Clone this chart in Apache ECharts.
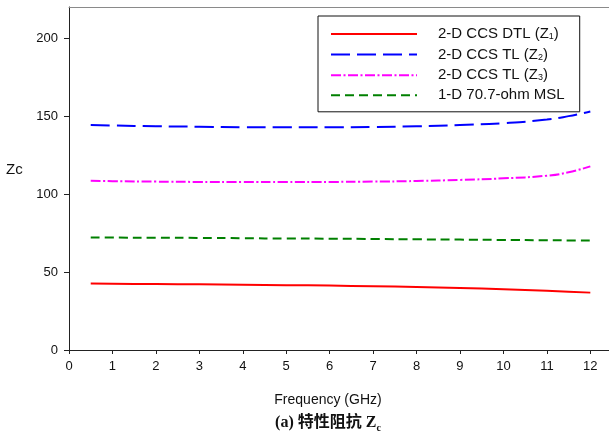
<!DOCTYPE html>
<html>
<head>
<meta charset="utf-8">
<script src="https://cdn.jsdelivr.net/npm/echarts@6/dist/echarts.min.js"></script>
<style>html,body{margin:0;padding:0;background:#fff}#c{width:609px;height:441px}</style>
</head>
<body>
<div id="c"></div>
<script>
const freq = [0.5, 1, 2, 3, 4, 5, 6, 7, 8, 9, 10, 11, 11.5, 12];
const z1DTL = [42.6, 42.5, 42.3, 42.1, 41.9, 41.6, 41.3, 40.9, 40.4, 39.8, 39.0, 38.0, 37.4, 36.8];
const z2TL = [144.3, 144.0, 143.5, 143.2, 142.9, 142.8, 142.8, 143.0, 143.5, 144.3, 145.5, 147.8, 150.0, 153.0];
const z3TL = [108.5, 108.3, 108.0, 107.8, 107.7, 107.7, 107.8, 108.0, 108.4, 109.1, 110.1, 111.8, 114.0, 117.8];
const msl = [72.2, 72.1, 72.0, 71.9, 71.7, 71.5, 71.4, 71.2, 71.0, 70.8, 70.6, 70.4, 70.3, 70.2];
const xTicks = [0,1,2,3,4,5,6,7,8,9,10,11,12];
const yTicks = [0,50,100,150,200];
const names = ['Z1', 'Z2', 'Z3', 'MSL'];
const legendLabels = {
  Z1: '{a|2-D CCS DTL (Z}{s|1}{a|)}',
  Z2: '{a|2-D CCS TL (Z}{s|2}{a|)}',
  Z3: '{a|2-D CCS TL (Z}{s|3}{a|)}',
  MSL: '{a|1-D 70.7-ohm MSL}'
};
const pair = (ys) => freq.map((x, i) => [x, ys[i]]);
const FONT = '"Liberation Sans", Arial, sans-serif';

const chart = echarts.init(document.getElementById('c'), null, {renderer: 'canvas'});
chart.setOption({
  animation: false,
  backgroundColor: '#fff',
  grid: {left: 69, top: 7, right: 0, bottom: 91},
  xAxis: [{
    type: 'value', min: 0, max: 12.43, interval: 1,
    axisLine: {show: true, lineStyle: {color: '#222', width: 1}},
    axisTick: {show: true, length: 4, customValues: xTicks, lineStyle: {color: '#222'}},
    axisLabel: {customValues: xTicks, color: '#111', fontFamily: FONT, fontSize: 13, margin: 10},
    splitLine: {show: false}
  }, {
    type: 'value', position: 'top', min: 0, max: 12.43,
    axisLine: {show: true, lineStyle: {color: '#8a8a8a', width: 1}},
    axisTick: {show: false}, axisLabel: {show: false}, splitLine: {show: false}
  }],
  yAxis: {
    type: 'value', min: 0, max: 220, interval: 50,
    axisLine: {show: true, lineStyle: {color: '#222', width: 1}},
    axisTick: {show: true, length: 5, customValues: yTicks, lineStyle: {color: '#222'}},
    axisLabel: {customValues: yTicks, color: '#111', fontFamily: FONT, fontSize: 13, margin: 11},
    splitLine: {show: false}
  },
  legend: {
    data: names,
    orient: 'vertical',
    left: 318, top: 16,
    padding: [10, 15, 9, 12],
    borderColor: '#111', borderWidth: 1, backgroundColor: '#fff',
    itemWidth: 86, itemHeight: 14, itemGap: 5.1,
    itemStyle: {opacity: 0},
    formatter: (n) => legendLabels[n],
    textStyle: {
      padding: [0, 0, 0, 16],
      rich: {
        a: {fontFamily: FONT, fontSize: 15, color: '#111', lineHeight: 14},
        s: {fontFamily: FONT, fontSize: 9, color: '#111', lineHeight: 8, verticalAlign: 'bottom', padding: [6, 0, 0, 0]}
      }
    }
  },
  series: [
    {name: 'Z1', type: 'line', data: pair(z1DTL), smooth: true, showSymbol: false, symbol: 'none',
     lineStyle: {color: '#ff0000', width: 2, type: 'solid'}, itemStyle: {color: '#ff0000'}, z: 4},
    {name: 'Z2', type: 'line', data: pair(z2TL), smooth: true, showSymbol: false, symbol: 'none',
     lineStyle: {color: '#0000ff', width: 2, type: [19, 7]}, itemStyle: {color: '#0000ff'}, z: 3},
    {name: 'Z3', type: 'line', data: pair(z3TL), smooth: true, showSymbol: false, symbol: 'none',
     lineStyle: {color: '#ff00ff', width: 2, type: [10, 2.5, 2, 2.5]}, itemStyle: {color: '#ff00ff'}, z: 3},
    {name: 'MSL', type: 'line', data: pair(msl), smooth: true, showSymbol: false, symbol: 'none',
     lineStyle: {color: '#008000', width: 2, type: [9, 5]}, itemStyle: {color: '#008000'}, z: 3}
  ],
  graphic: [
    {type: 'text', left: 6, top: 162, style: {text: 'Zc', font: '15px ' + FONT, fill: '#111'}},
    {type: 'text', x: 328, y: 400, style: {text: 'Frequency (GHz)', font: '14px ' + FONT, fill: '#111', align: 'center', verticalAlign: 'middle'}},
    {type: 'text', x: 328, y: 423, style: {
      text: '{b|(a) 特性阻抗 Z}{sb|c}', align: 'center', verticalAlign: 'middle',
      rich: {
        b: {font: 'bold 16px "Liberation Serif", "Noto Sans CJK SC", serif', fill: '#111', lineHeight: 20},
        sb: {font: 'bold 10px "Liberation Serif", serif', fill: '#111', lineHeight: 20, verticalAlign: 'bottom', padding: [8, 0, 0, 0]}
      }
    }}
  ]
});
</script>
</body>
</html>
